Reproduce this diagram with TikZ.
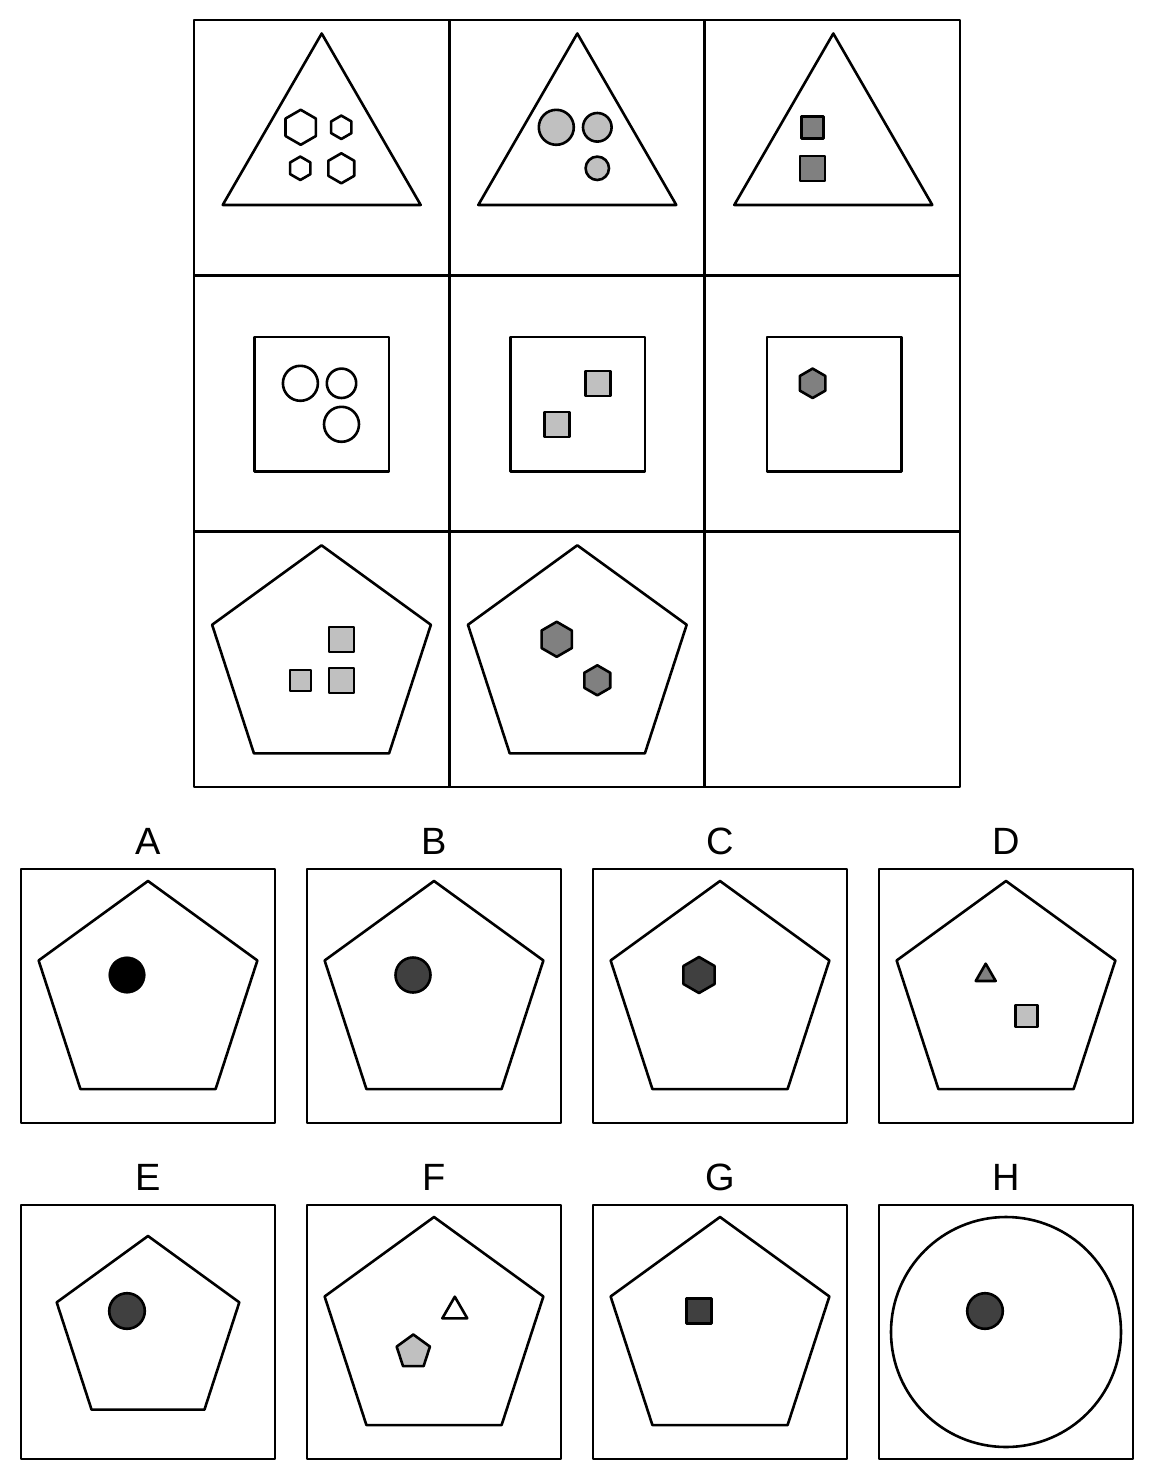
\documentclass[tikz,border=0pt]{standalone}
\usepackage{fontspec}
\setmainfont{Liberation Sans}
\usepackage{tikz}
\definecolor{lgray}{HTML}{C0C0C0}
\definecolor{mgray}{HTML}{808080}
\definecolor{dgray}{HTML}{404040}

\begin{document}
\begin{tikzpicture}[x=1pt, y=-1pt, line join=round,
    fig/.style={black, line width=2.6pt},
    optbox/.style={black, line width=2pt},
    letter/.style={anchor=base, inner sep=0pt, font=\fontsize{38}{40}\selectfont}]
    \useasboundingbox (0,0) rectangle (1154,1480);

    % the matrix
    \draw[fig] (194,20) rectangle (960,787);
    \draw[fig] (449.3,20) -- (449.3,787);
    \draw[fig] (704.7,20) -- (704.7,787);
    \draw[fig] (194,275.7) -- (960,275.7);
    \draw[fig] (194,531.3) -- (960,531.3);

    % row 1: triangles
    \foreach \cx in {321.7, 577.3, 833.3}
        \draw[fig] (\cx,147.8) +(-90:114.3) -- +(30:114.3) -- +(150:114.3) -- cycle;
    \foreach \x/\y/\r in {300.7/127.3/17.5, 341.3/127.3/11.7, 300.3/168.3/11.7, 341.3/168.3/15}
        \draw[fig, fill=white] (\x,\y) +(90:\r) -- +(150:\r) -- +(210:\r) -- +(270:\r) -- +(330:\r) -- +(30:\r) -- cycle;
    \filldraw[fig, fill=lgray] (556.3,127.3) circle (17.5);
    \filldraw[fig, fill=lgray] (597.3,127.3) circle (14.3);
    \filldraw[fig, fill=lgray] (597.3,168.3) circle (11.7);
    \foreach \x/\y/\s in {812.5/127.5/21.7, 812.5/168.3/25}
        \draw[fig, fill=mgray] (\x-\s/2,\y-\s/2) rectangle (\x+\s/2,\y+\s/2);

    % row 2: squares
    \foreach \cx in {321.7, 577.6, 834.2}
        \draw[fig] (\cx-67.3,337) rectangle (\cx+67.3,471.7);
    \draw[fig] (300.4,383.3) circle (17.5);
    \draw[fig] (341.5,383.3) circle (14.7);
    \draw[fig] (341.5,424.3) circle (17.5);
    \foreach \x/\y/\s in {597.7/383.5/25, 557/424.3/25}
        \draw[fig, fill=lgray] (\x-\s/2,\y-\s/2) rectangle (\x+\s/2,\y+\s/2);
    \draw[fig, fill=mgray] (812.6,383.3) +(90:14.7) -- +(150:14.7) -- +(210:14.7) -- +(270:14.7) -- +(330:14.7) -- +(30:14.7) -- cycle;

    % row 3: pentagons
    \foreach \cx in {321.5, 577.3}
        \draw[fig] (\cx,660.3) +(-90:115) -- +(-18:115) -- +(54:115) -- +(126:115) -- +(198:115) -- cycle;
    \foreach \x/\y/\s in {341.5/639.5/25, 341.5/680.3/25, 300.3/680.3/21}
        \draw[fig, fill=lgray] (\x-\s/2,\y-\s/2) rectangle (\x+\s/2,\y+\s/2);
    \foreach \x/\y/\r in {556.7/639.3/17.5, 597.3/680.3/15}
        \draw[fig, fill=mgray] (\x,\y) +(90:\r) -- +(150:\r) -- +(210:\r) -- +(270:\r) -- +(330:\r) -- +(30:\r) -- cycle;

    % answer boxes and letters
    \foreach \cx/\cy/\name/\lab in {148/996/A/A, 434/996/B/B, 720/996/C/C, 1006/996/D/D,
                                  148/1332/E/E, 434/1332/F/F, 720/1332/G/G, 1006/1332/H/H} {
        \draw[optbox] (\cx-127,\cy-127) rectangle (\cx+127,\cy+127);
        \node[letter] (lab\name) at (\cx,\cy-142) {\lab};
    }
    \foreach \cx/\cy in {148/996, 434/996, 720/996, 1006/996, 434/1332, 720/1332}
        \draw[fig] (\cx,\cy) +(-90:115) -- +(-18:115) -- +(54:115) -- +(126:115) -- +(198:115) -- cycle;
    \draw[fig] (148,1332) +(-90:96) -- +(-18:96) -- +(54:96) -- +(126:96) -- +(198:96) -- cycle;
    \draw[fig] (1006,1332) circle (115);

    % A
    \filldraw[black] (127,975) circle (18.3);
    % B
    \filldraw[fig, fill=dgray] (413,975) circle (17.5);
    % C
    \draw[fig, fill=dgray] (699,975) +(90:18) -- +(150:18) -- +(210:18) -- +(270:18) -- +(330:18) -- +(30:18) -- cycle;
    % D
    \draw[fig, fill=mgray] (985.7,975.2) +(-90:11.5) -- +(30:11.5) -- +(150:11.5) -- cycle;
    \draw[fig, fill=lgray] (1015.3,1005) rectangle (1037.3,1027);
    % E
    \filldraw[fig, fill=dgray] (127,1311) circle (17.8);
    % F
    \draw[fig, fill=white] (454.8,1311.1) +(-90:14.4) -- +(30:14.4) -- +(150:14.4) -- cycle;
    \draw[fig, fill=lgray] (413.3,1352) +(-90:17.5) -- +(-18:17.5) -- +(54:17.5) -- +(126:17.5) -- +(198:17.5) -- cycle;
    % G
    \draw[fig, fill=dgray] (686.5,1298.5) rectangle (711.5,1323.5);
    % H
    \filldraw[fig, fill=dgray] (985,1311) circle (17.8);
\end{tikzpicture}
\end{document}
